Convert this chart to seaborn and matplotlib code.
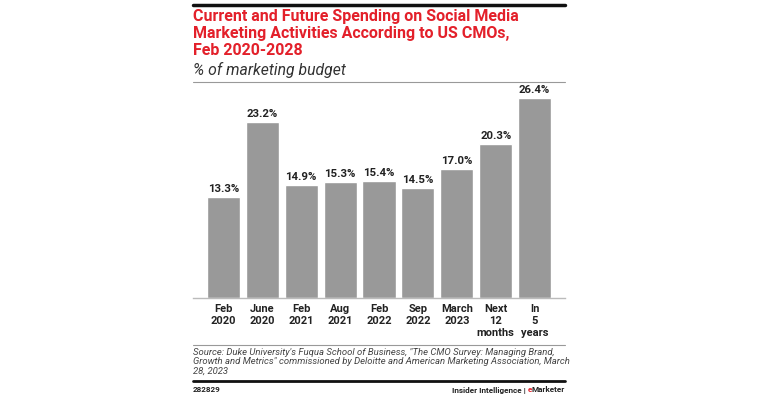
import numpy as np
import pandas as pd
import matplotlib.pyplot as plt
import seaborn as sns

# chart data
periods = ["Feb\n2020", "June\n2020", "Feb\n2021", "Aug\n2021", "Feb\n2022",
           "Sep\n2022", "March\n2023", "Next\n12\nmonths", "In\n5\nyears"]
spend_share = [13.3, 23.2, 14.9, 15.3, 15.4, 14.5, 17.0, 20.3, 26.4]

title = ("Current and Future Spending on Social Media\n"
         "Marketing Activities According to US CMOs,\n"
         "Feb 2020-2028")
subtitle = "% of marketing budget"
source = ("Source: Duke University's Fuqua School of Business, \"The CMO Survey: Managing Brand,\n"
          "Growth and Metrics\" commissioned by Deloitte and American Marketing Association, March\n"
          "28, 2023")

RED = "#e3202a"
BAR = "#999999"

sns.set_style("white")
plt.rcParams['font.family'] = ['Roboto', 'DejaVu Sans']

W, H = 758, 397
fig = plt.figure(figsize=(W / 100, H / 100), dpi=100)

def fx(px):
    return px / W

def fy(py):
    return 1 - py / H

# axes: x from 193 to 565 px, y from 82 (top) to 298 (baseline)
ax = fig.add_axes([fx(193), fy(298), fx(565) - fx(193), fy(82) - fy(298)])
df = pd.DataFrame({"period": periods, "share": spend_share})
sns.barplot(data=df, x="period", y="share", color=BAR, saturation=1,
            width=0.85, ax=ax)
ax.set_xlim(-0.78, 8.78)
ax.set_ylim(0, 28.5)
for s in ["top", "right", "left"]:
    ax.spines[s].set_visible(False)
ax.spines["bottom"].set_color("#bbbbbb")
ax.spines["bottom"].set_linewidth(1.0)
ax.set_yticks([])
ax.set_xlabel("")
ax.set_ylabel("")
ax.tick_params(axis="x", length=0, pad=4)
for lab in ax.get_xticklabels():
    lab.set_fontsize(8)
    lab.set_fontweight("bold")
    lab.set_color("#222222")
    lab.set_linespacing(1.25)
    lab.set_verticalalignment("top")

for i, v in enumerate(spend_share):
    ax.text(i, v + 0.45, f"{v:.1f}%", ha="center", va="bottom",
            fontsize=8.2, fontweight="bold", color="#222222")

# header lines and texts
fig.add_artist(plt.Line2D([fx(193), fx(565)], [fy(5), fy(5)], color="#111111", lw=2.5))
fig.text(fx(193), fy(9), title, color=RED, fontsize=11.5, fontweight="bold",
         ha="left", va="top", linespacing=1.17)
fig.text(fx(193), fy(62), subtitle, color="#333333", fontsize=11.3,
         style="italic", ha="left", va="top")
fig.add_artist(plt.Line2D([fx(193), fx(565)], [fy(82), fy(82)], color="#999999", lw=0.8))

# footer
fig.add_artist(plt.Line2D([fx(193), fx(565)], [fy(345), fy(345)], color="#999999", lw=0.8))
fig.text(fx(193), fy(348), source, color="#444444", fontsize=6.8,
         style="italic", ha="left", va="top", linespacing=1.02)
fig.add_artist(plt.Line2D([fx(193), fx(565)], [fy(381), fy(381)], color="#111111", lw=2.0))
fig.text(fx(193), fy(390), "282829", color="#222222", fontsize=5.8,
         fontweight="bold", ha="left", va="center")

# "Insider Intelligence | eMarketer" with a red "e"
fig.canvas.draw()
rend = fig.canvas.get_renderer()
x_right = fx(565)
for part, col in [("Marketer", "#222222"), ("e", RED), ("Insider Intelligence | ", "#222222")]:
    t = fig.text(x_right, fy(390), part, color=col, fontsize=5.9,
                 fontweight="bold", ha="right", va="center")
    bb = t.get_window_extent(renderer=rend)
    x_right = bb.x0 / fig.bbox.width

fig.savefig("out.png", dpi=100, facecolor="white")
